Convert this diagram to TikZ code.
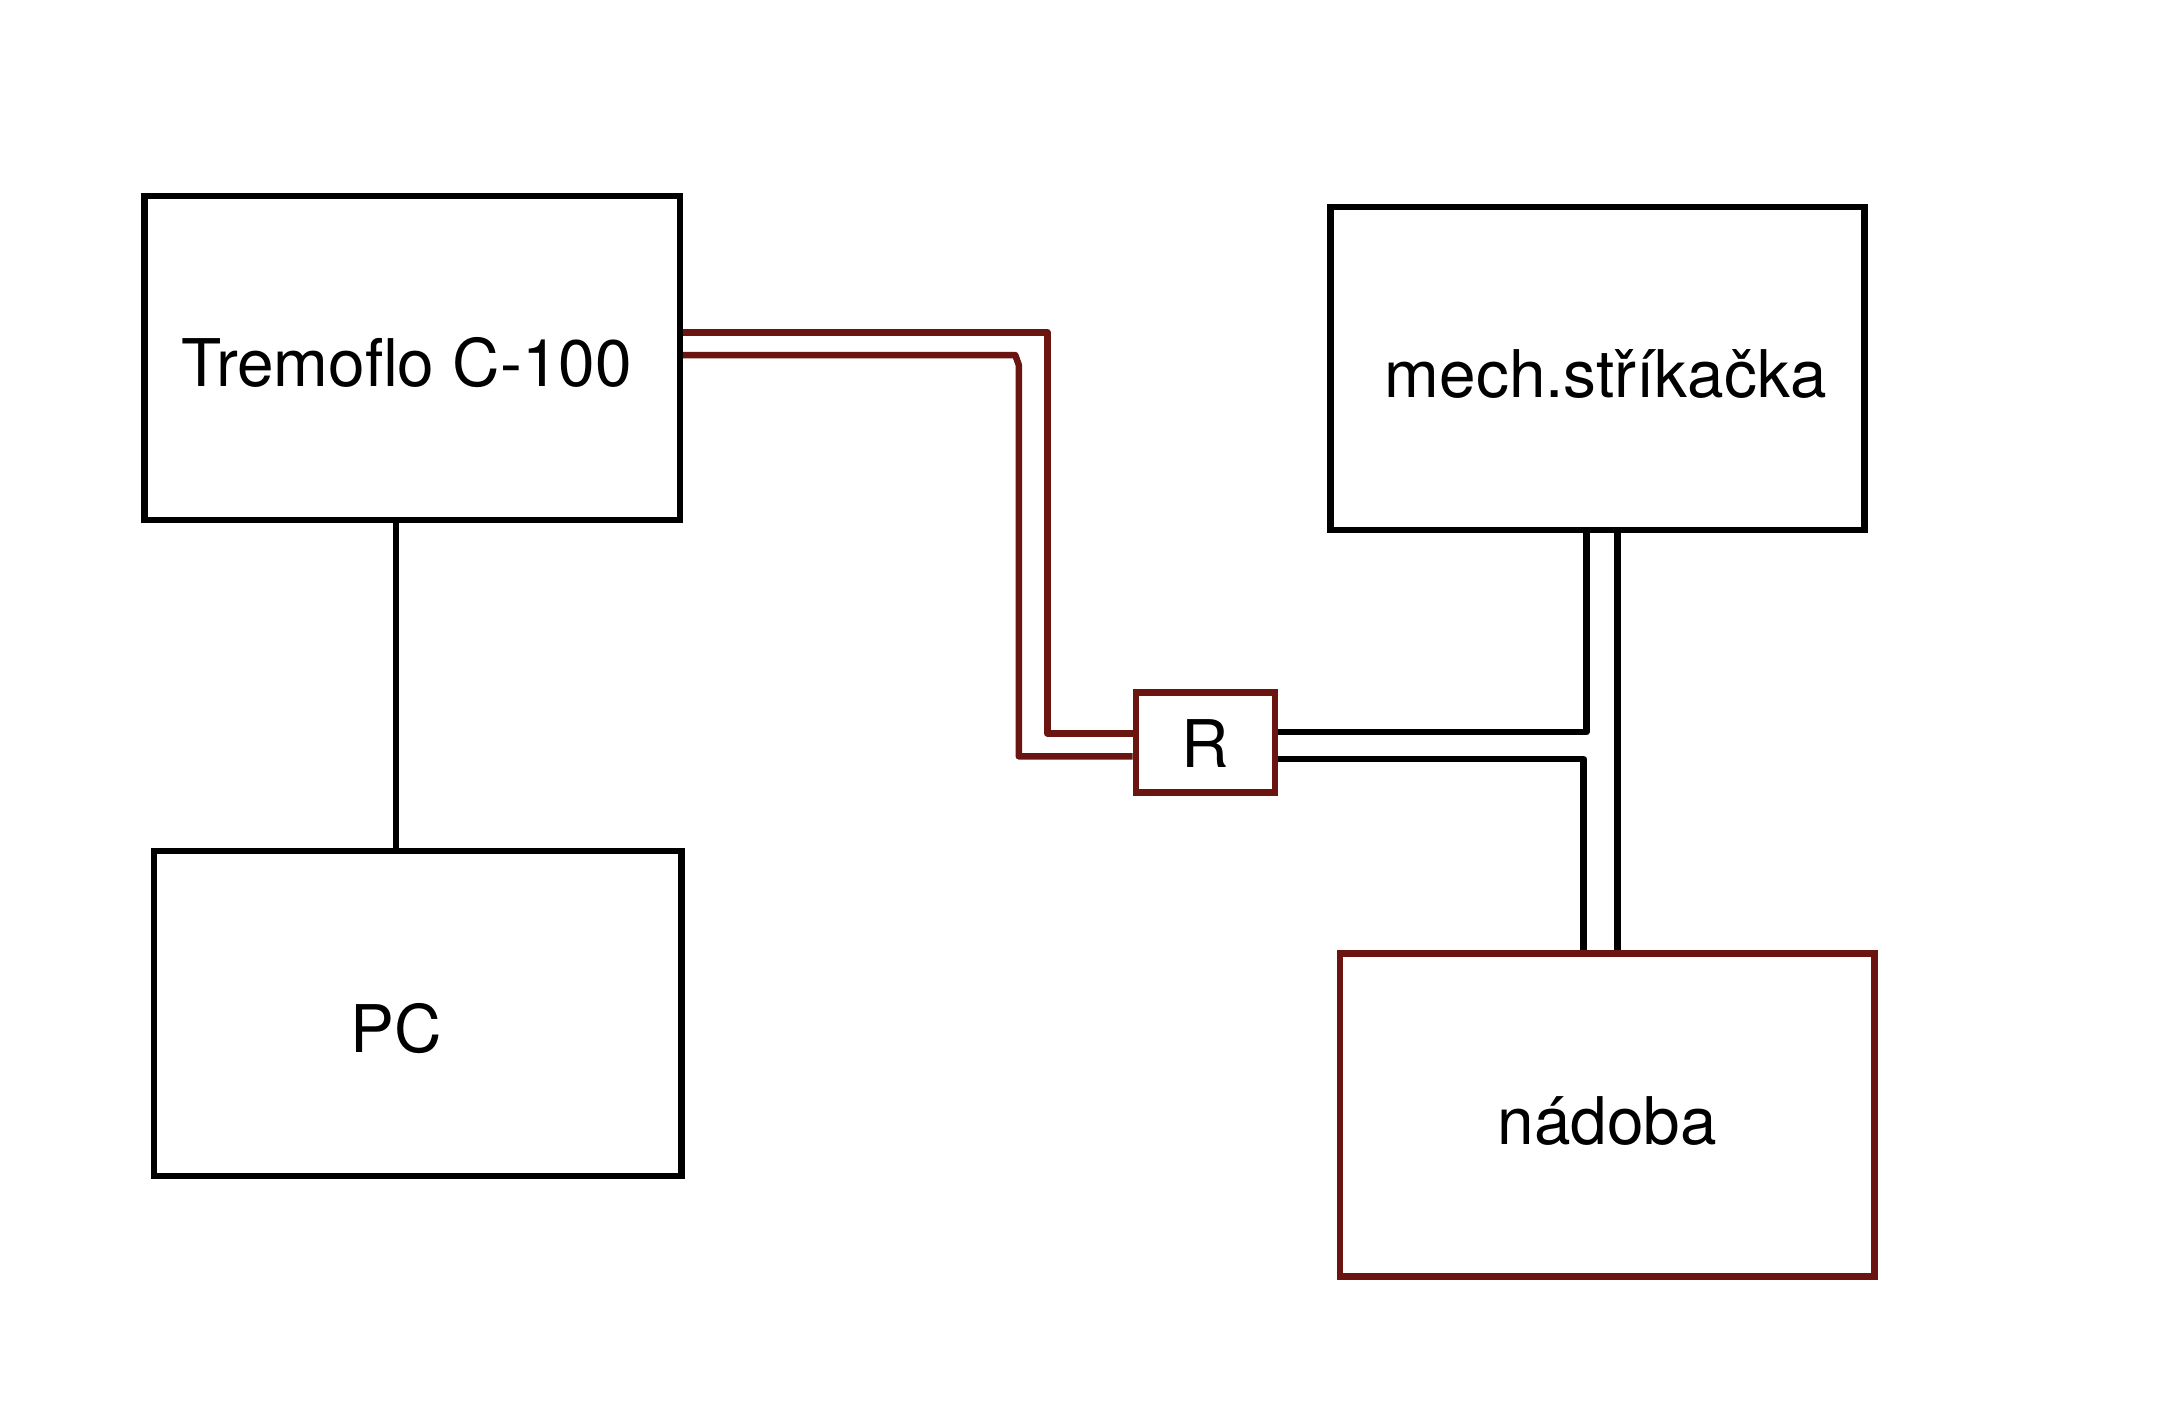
\documentclass[tikz,border=0pt]{standalone}
\usepackage{fontspec}
\setmainfont{TeX Gyre Heros}
\usetikzlibrary{calc}

\definecolor{darkred}{RGB}{106,21,16}

\tikzstyle{box} = [rectangle, minimum width=5.34cm, minimum height=3.23cm, draw=black, line width=1.85pt, text height=0.58cm, text depth=0cm, font=\fontsize{18.7pt}{22pt}\selectfont]
\tikzstyle{rbox} = [box, draw=darkred]
\tikzstyle{wire} = [draw=black, line width=1.85pt, line join=round]
\tikzstyle{pipe} = [draw=darkred, line width=1.85pt, line join=round]

\begin{document}
\begin{tikzpicture}[x=0.013903cm, y=-0.013903cm]
\fill[white] (0,0) rectangle (1568,1021);

\node[box, minimum width=5.35cm, minimum height=3.24cm] (Tremo) at (296.5,257.5) {Tremoflo C-100\hspace*{0.11cm}};
\node[box, minimum width=5.27cm, minimum height=3.25cm] (PC) at (300.5,729) {};
\node[font=\fontsize{18.7pt}{22pt}\selectfont] at ([xshift=-0.215cm, yshift=-0.15cm]PC.center) {PC};

\node[box] (Mech) at (1149,265) {\hspace*{0.17cm}mech.stříkačka};
\node[rbox] (Vessel) at (1156,802) {nádoba};
\node[rbox, minimum width=1.39cm, minimum height=1cm, text height=0.5cm] (R) at (867,534) {R};

% PC link
\draw[wire] ([xshift=-0.16cm]Tremo.south) -- ([xshift=-0.16cm]Tremo.south |- PC.north);

% red tubes to R
\draw[pipe] ($(Tremo.east)+(0,-18.5)$) -- ++(262,0) |- ($(R.west)+(0,-6.5)$);
\draw[pipe] ($(Tremo.east)+(0,-2)$) -- ++(239,0) -- ++(2.5,7) |- ($(R.west)+(0,10)$);

% black tubes from R
\draw[wire] ($(R.east)+(0,-7.5)$) -| ($(Mech.south)+(-8,0)$);
\draw[wire] ($(R.east)+(0,12)$) -| ($(Vessel.north)+(-17,0)$);
\draw[wire] ($(Mech.south)+(14.5,0)$) -- ($(Vessel.north)+(7.5,0)$);

\end{tikzpicture}
\end{document}
